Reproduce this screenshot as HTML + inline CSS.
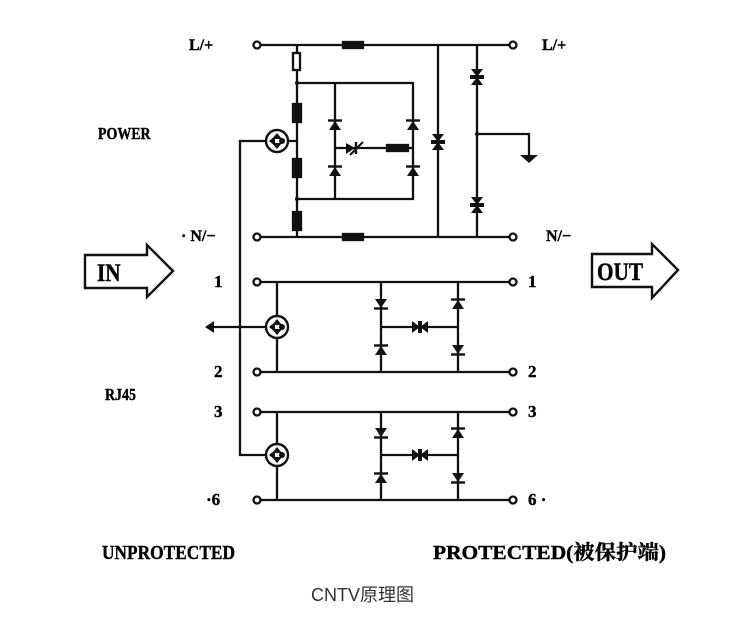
<!DOCTYPE html>
<html><head><meta charset="utf-8"><style>
html,body{margin:0;padding:0;background:#fff;}
svg{display:block}
.b{font-family:"Liberation Serif","Noto Serif CJK SC",serif;font-weight:bold;fill:#000;stroke:#000;stroke-width:0.4}
</style></head><body>
<svg width="750" height="632" viewBox="0 0 750 632" xmlns="http://www.w3.org/2000/svg">
<defs>
<g id="dd"><polygon points="-6,-5 6,-5 0,4" fill="#111"/><line x1="-7" y1="4.5" x2="7" y2="4.5" stroke="#111" stroke-width="2.4"/></g>
<g id="du"><polygon points="-6,5 6,5 0,-4" fill="#111"/><line x1="-7" y1="-4.5" x2="7" y2="-4.5" stroke="#111" stroke-width="2.4"/></g>
<g id="bi"><polygon points="-6,-8 6,-8 0,0" fill="#111"/><polygon points="-6,8 6,8 0,0" fill="#111"/><rect x="-7" y="-2" width="14" height="4" fill="#111"/></g>
<g id="bih"><polygon points="-8,-6 -8,6 0,0" fill="#111"/><polygon points="8,-6 8,6 0,0" fill="#111"/><rect x="-2" y="-6" width="4" height="12" fill="#111"/></g>
<g id="tube"><circle r="11" fill="#fff" stroke="#111" stroke-width="2.4"/><polygon points="-8,0 -2,-5 -2,5" fill="#111"/><polygon points="0,-8 -5,-2 5,-2" fill="#111"/><polygon points="0,8 -5,2 5,2" fill="#111"/><circle cx="5" cy="0" r="3" fill="#111"/></g>
</defs>
<g stroke="#111" stroke-width="2.3" fill="none">
<line x1="261" y1="45" x2="509" y2="45"/>
<line x1="261" y1="237" x2="509" y2="237"/>
<circle cx="257" cy="45" r="3.5" fill="#fff"/><circle cx="513" cy="45" r="3.5" fill="#fff"/>
<circle cx="257" cy="237" r="3.5" fill="#fff"/><circle cx="513" cy="237" r="3.5" fill="#fff"/>
<line x1="297" y1="45" x2="297" y2="237"/>
<rect x="293" y="53" width="7" height="17" fill="#fff"/>
<rect x="343" y="42" width="20" height="6" fill="#111"/>
<rect x="343" y="234" width="20" height="6" fill="#111"/>
<rect x="293" y="104" width="8" height="18" fill="#111"/>
<rect x="293" y="159" width="8" height="18" fill="#111"/>
<rect x="293" y="212" width="8" height="18" fill="#111"/>
<polyline points="297,83 413,83 413,199 297,199"/>
<line x1="335" y1="83" x2="335" y2="199"/>
<line x1="335" y1="148" x2="413" y2="148"/>
<rect x="387" y="145" width="21" height="6" fill="#111"/>
<line x1="277" y1="141" x2="297" y2="141"/>
<polyline points="267,141 240,141 240,455 277,455"/>
<line x1="438" y1="45" x2="438" y2="237"/>
<line x1="477" y1="45" x2="477" y2="237"/>
<polyline points="477,134 529,134 529,156"/>
<line x1="261" y1="282" x2="509" y2="282"/>
<line x1="261" y1="372" x2="509" y2="372"/>
<line x1="261" y1="412" x2="509" y2="412"/>
<line x1="261" y1="500" x2="509" y2="500"/>
<circle cx="257" cy="282" r="3.5" fill="#fff"/><circle cx="513" cy="282" r="3.5" fill="#fff"/>
<circle cx="257" cy="372" r="3.5" fill="#fff"/><circle cx="513" cy="372" r="3.5" fill="#fff"/>
<circle cx="257" cy="412" r="3.5" fill="#fff"/><circle cx="513" cy="412" r="3.5" fill="#fff"/>
<circle cx="257" cy="500" r="3.5" fill="#fff"/><circle cx="513" cy="500" r="3.5" fill="#fff"/>
<line x1="277" y1="282" x2="277" y2="372"/>
<line x1="277" y1="412" x2="277" y2="500"/>
<line x1="381" y1="282" x2="381" y2="372"/><line x1="458" y1="282" x2="458" y2="372"/>
<line x1="381" y1="412" x2="381" y2="500"/><line x1="458" y1="412" x2="458" y2="500"/>
<line x1="381" y1="327" x2="458" y2="327"/>
<line x1="381" y1="455" x2="458" y2="455"/>
<line x1="212" y1="327" x2="277" y2="327"/>
<polygon points="85,255 147,255 147,245 173,271 147,297 147,288 85,288" stroke-width="2.4"/>
<polygon points="592,254 652,254 652,244 678,270 652,298 652,287 592,287" stroke-width="2.4"/>
</g>
<polygon points="205,327 214,321 214,333" fill="#111"/>
<polygon points="520,155 538,155 529,163" fill="#111"/>
<use href="#du" x="335" y="125"/><use href="#du" x="335" y="171"/>
<use href="#du" x="413" y="125"/><use href="#du" x="413" y="171"/>
<polygon points="346,143 346,154 355,148" fill="#111"/><line x1="356" y1="142" x2="356" y2="154" stroke="#111" stroke-width="2.4"/>
<line x1="350" y1="155" x2="363" y2="142" stroke="#111" stroke-width="2"/>
<use href="#bi" x="438" y="142"/>
<use href="#bi" x="477" y="77"/><use href="#bi" x="477" y="205"/>
<use href="#dd" x="381" y="304"/><use href="#du" x="381" y="350"/>
<use href="#du" x="458" y="304"/><use href="#dd" x="458" y="350"/>
<use href="#bih" x="420" y="327"/>
<use href="#dd" x="381" y="433"/><use href="#du" x="381" y="478"/>
<use href="#du" x="458" y="433"/><use href="#dd" x="458" y="478"/>
<use href="#bih" x="420" y="455"/>
<use href="#tube" x="277" y="141"/>
<use href="#tube" x="277" y="327"/>
<use href="#tube" x="277" y="455"/>
<circle cx="297" cy="83" r="2" fill="#111"/><circle cx="297" cy="199" r="2" fill="#111"/>
<circle cx="477" cy="134" r="2" fill="#111"/>
<text class="b" x="189" y="50" font-size="16">L/+</text>
<text class="b" x="542" y="50" font-size="16">L/+</text>
<text class="b" x="98" y="139" font-size="17" transform="translate(98 0) scale(0.82 1) translate(-98 0)">POWER</text>
<text class="b" x="181" y="241" font-size="16">· N/−</text>
<text class="b" x="546" y="241" font-size="16">N/−</text>
<text class="b" x="97" y="281" font-size="25" transform="translate(97 0) scale(0.85 1) translate(-97 0)">IN</text>
<text class="b" x="597" y="280" font-size="25" transform="translate(597 0) scale(0.85 1) translate(-597 0)">OUT</text>
<text class="b" x="214" y="287" font-size="17">1</text>
<text class="b" x="528" y="287" font-size="17">1</text>
<text class="b" x="214" y="377" font-size="17">2</text>
<text class="b" x="528" y="377" font-size="17">2</text>
<text class="b" x="214" y="417" font-size="17">3</text>
<text class="b" x="528" y="417" font-size="17">3</text>
<text class="b" x="206" y="505" font-size="17">·6</text>
<text class="b" x="528" y="505" font-size="17">6 ·</text>
<text class="b" x="105" y="400" font-size="17" transform="translate(105 0) scale(0.82 1) translate(-105 0)">RJ45</text>
<text class="b" x="102" y="559" font-size="20" textLength="133" lengthAdjust="spacingAndGlyphs">UNPROTECTED</text>
<text class="b" x="433" y="559" font-size="20" textLength="233" lengthAdjust="spacingAndGlyphs">PROTECTED(被保护端)</text>
<text x="311" y="601" font-size="18" fill="#333" font-family="'Liberation Sans','Noto Sans CJK SC',sans-serif">CNTV原理图</text>
</svg>
</body></html>
